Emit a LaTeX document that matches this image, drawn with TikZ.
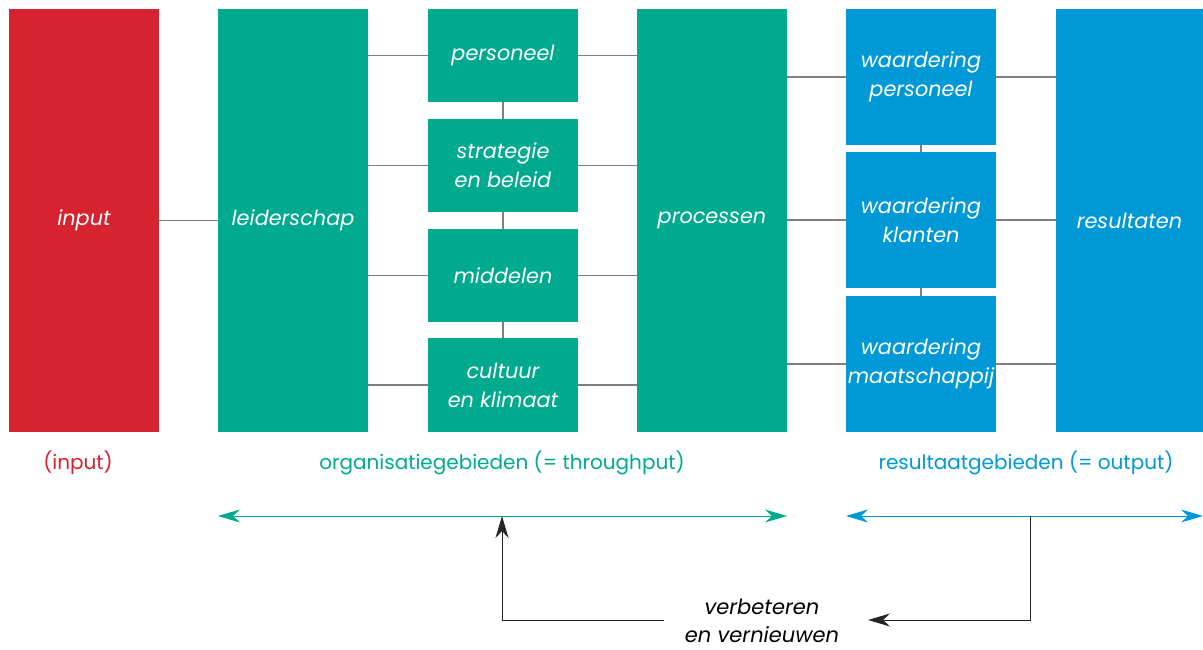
\documentclass[tikz,border=0pt]{standalone}
\usepackage{fontspec}
\setmainfont{Poppins}
\usepackage{tikz}
\usetikzlibrary{arrows.meta, positioning, calc}

\definecolor{inred}{HTML}{D6232F}
\definecolor{orggreen}{HTML}{00AA8F}
\definecolor{resblue}{HTML}{0099D8}
\definecolor{linkgray}{HTML}{7F7F7F}

\tikzset{
    blok/.style={minimum width=150pt, inner sep=0pt, text=white, align=center,
        font=\fontsize{20.8}{29}\selectfont\itshape},
    link/.style={draw=linkgray, line width=1.2pt},
    label/.style={font=\fontsize{20}{24}\selectfont},
    span/.style={line width=1pt, {Stealth[length=22pt, width=13pt, inset=7pt]}-{Stealth[length=22pt, width=13pt, inset=7pt]}},
    terug/.style={line width=1pt, black!85, -{Stealth[length=22pt, width=13pt, inset=7pt]}}
}

\begin{document}
\begin{tikzpicture}[x=1pt, y=-1pt]
    \useasboundingbox (0, 0) rectangle (1203, 650);
    % kolommen
    \node[blok, fill=inred, minimum height=423pt] (input) at (84, 220.5) {input};
    \node[blok, fill=orggreen, minimum height=423pt] (leider) at (293, 220.5) {leiderschap};
    \node[blok, fill=orggreen, minimum height=93pt] (pers) at (503, 55.5) {personeel};
    \node[blok, fill=orggreen, minimum height=93pt] (strat) at (503, 165.5) {strategie\\en beleid};
    \node[blok, fill=orggreen, minimum height=93pt] (midd) at (503, 275.5) {middelen};
    \node[blok, fill=orggreen, minimum height=94pt] (cult) at (503, 385) {cultuur\\en klimaat};
    \node[blok, fill=orggreen, minimum height=423pt] (proc) at (712, 220.5) {processen};
    \node[blok, fill=resblue, minimum height=136pt] (wpers) at (921, 77) {waardering\\personeel};
    \node[blok, fill=resblue, minimum height=136pt] (wklant) at (921, 220) {waardering\\klanten};
    \node[blok, fill=resblue, minimum height=136pt] (wmaat) at (921, 364) {waardering\\maatschappij};
    \node[blok, fill=resblue, minimum width=147pt, minimum height=423pt] (result) at (1129.5, 220.5) {resultaten};

    % verbindingen
    \draw[link] (input) -- (leider);
    \foreach \b in {pers, strat, midd, cult} {
        \draw[link] (leider.east |- \b.west) -- (\b.west);
        \draw[link] (\b.east) -- (proc.west |- \b.east);
    }
    \draw[link] (pers) -- (strat);
    \draw[link] (strat) -- (midd);
    \draw[link] (midd) -- (cult);
    \foreach \b in {wpers, wklant, wmaat} {
        \draw[link] (proc.east |- \b.west) -- (\b.west);
        \draw[link] (\b.east) -- (result.west |- \b.east);
    }
    \draw[link] (wpers) -- (wklant);
    \draw[link] (wklant) -- (wmaat);

    % onderschriften
    \node[label, text=inred] (linput) at (78, 463) {(input)};
    \node[label, text=orggreen] (lorg) at (502, 463) {organisatiegebieden (= throughput)};
    \node[label, text=resblue] (lres) at (1026, 463) {resultaatgebieden (= output)};

    % pijlen
    \coordinate (gl) at (218, 516);
    \coordinate (gr) at (787, 516);
    \coordinate (bl) at (846, 516);
    \coordinate (br) at (1203, 516);
    \draw[span, orggreen] (gl) -- (gr);
    \draw[span, resblue] (bl) -- (br);

    \node[font=\fontsize{21}{28}\selectfont\itshape, align=center] (verb) at (762, 621) {verbeteren\\en vernieuwen};
    \coordinate (vstart) at (664, 620);
    \coordinate (gmid) at (502, 516);
    \coordinate (bmid) at (1030, 516);
    \coordinate (vend) at (868, 620);
    \draw[terug] (vstart) -| (gmid);
    \draw[terug] (bmid) |- (vend);
\end{tikzpicture}
\end{document}
